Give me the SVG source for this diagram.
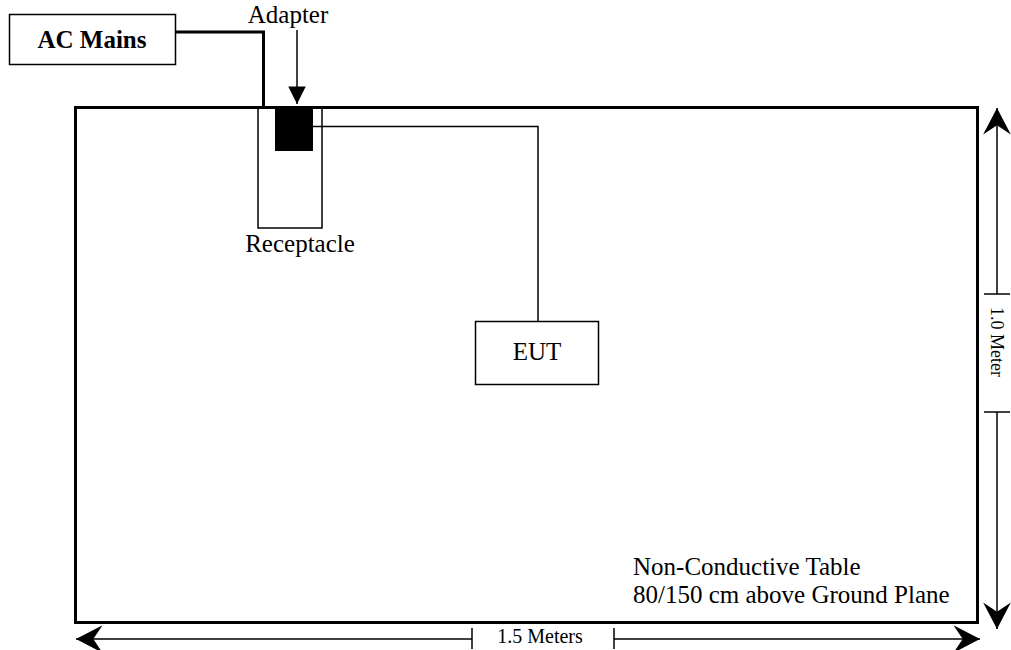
<svg xmlns="http://www.w3.org/2000/svg" width="1011" height="650" viewBox="0 0 1011 650">
<style>
.t{font-family:"Liberation Serif","Times New Roman",serif;fill:#000}
.thin{fill:none;stroke:#000;stroke-width:1.5}
.dim{fill:none;stroke:#000;stroke-width:1.5}
</style>
<defs>
<marker id="chev" markerUnits="userSpaceOnUse" markerWidth="30" markerHeight="30" viewBox="-24 -13 26 26" refX="0" refY="0" orient="auto">
<path d="M0,0 L-23,-12 L-15,0 L-23,12 Z" fill="#000"/>
</marker>
<marker id="tri" markerUnits="userSpaceOnUse" markerWidth="20" markerHeight="20" viewBox="-15 -8 16 16" refX="0" refY="0" orient="auto">
<path d="M0,0 L-14,-7 L-14,7 Z" fill="#000"/>
</marker>
</defs>
<rect width="1011" height="650" fill="#fff"/>
<g id="table">
<rect x="75.5" y="107.5" width="902" height="515" fill="none" stroke="#000" stroke-width="3"/>
<text class="t" x="633" y="575" font-size="25">Non-Conductive Table</text>
<text class="t" x="633" y="603" font-size="25">80/150 cm above Ground Plane</text>
</g>
<g id="ac-mains">
<rect x="9.5" y="14.5" width="166" height="50" class="thin"/>
<text class="t" x="92" y="48" font-size="25" font-weight="bold" text-anchor="middle">AC Mains</text>
</g>
<g id="receptacle">
<rect x="258" y="107.5" width="64" height="120.5" class="thin"/>
<text class="t" x="300" y="252" font-size="25" text-anchor="middle">Receptacle</text>
</g>
<g id="adapter">
<rect x="275" y="107" width="38" height="44" fill="#000"/>
<text class="t" x="288" y="23" font-size="25" text-anchor="middle">Adapter</text>
</g>
<g id="eut">
<rect x="475.5" y="321.5" width="123" height="63" class="thin"/>
<text class="t" x="537" y="360" font-size="25" text-anchor="middle">EUT</text>
</g>
<g id="connectors">
<polyline points="175,32 263.5,32 263.5,107" fill="none" stroke="#000" stroke-width="3"/>
<line x1="297" y1="30" x2="297" y2="104" class="thin" marker-end="url(#tri)"/>
<polyline points="313,126.5 538,126.5 538,321" class="thin"/>
</g>
<g id="dimensions">
<line x1="997" y1="294" x2="997" y2="108" class="dim" marker-end="url(#chev)"/>
<line x1="984" y1="294" x2="1010" y2="294" class="dim"/>
<line x1="997" y1="412" x2="997" y2="629" class="dim" marker-end="url(#chev)"/>
<line x1="984" y1="412" x2="1010" y2="412" class="dim"/>
<text class="t" font-size="18" text-anchor="middle" transform="translate(991,342) rotate(90)">1.0 Meter</text>
<line x1="472" y1="639" x2="76" y2="639" class="dim" marker-end="url(#chev)"/>
<line x1="472" y1="628" x2="472" y2="649" class="dim"/>
<line x1="614" y1="639" x2="980" y2="639" class="dim" marker-end="url(#chev)"/>
<line x1="614" y1="628" x2="614" y2="649" class="dim"/>
<text class="t" x="540" y="643" font-size="20" text-anchor="middle">1.5 Meters</text>
</g>
</svg>
